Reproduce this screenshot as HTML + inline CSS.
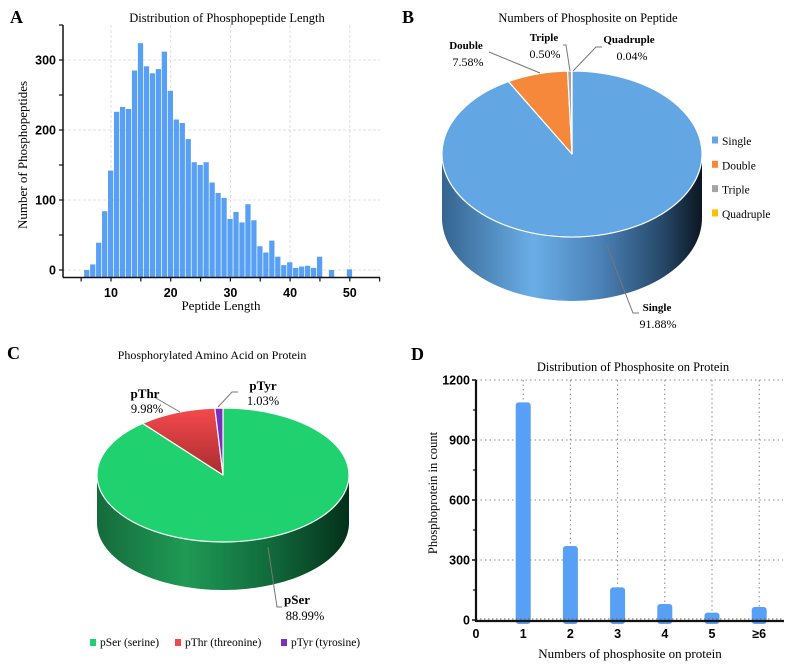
<!DOCTYPE html>
<html><head><meta charset="utf-8">
<style>
html,body{margin:0;padding:0;background:#fff;}
svg{display:block;}
.serif{font-family:"Liberation Serif",serif;}
.sans{font-family:"Liberation Sans",sans-serif;}
</style></head>
<body>
<svg id="fig" width="796" height="669" viewBox="0 0 796 669" xmlns="http://www.w3.org/2000/svg">
<defs>
<linearGradient id="sideB" x1="0" x2="1" y1="0" y2="0">
<stop offset="0" stop-color="#35648f"/><stop offset="0.35" stop-color="#6aaee8"/><stop offset="0.6" stop-color="#4c83b9"/><stop offset="0.85" stop-color="#264868"/><stop offset="1" stop-color="#0b1622"/>
</linearGradient>
<linearGradient id="sideC" x1="0" x2="1" y1="0" y2="0">
<stop offset="0" stop-color="#156b3b"/><stop offset="0.35" stop-color="#1f9a55"/><stop offset="0.7" stop-color="#10683a"/><stop offset="1" stop-color="#03301a"/>
</linearGradient>
<linearGradient id="thrTop" x1="0" x2="0" y1="0" y2="1">
<stop offset="0" stop-color="#f54a4c"/><stop offset="1" stop-color="#a82c30"/>
</linearGradient>
</defs>

<!-- Panel labels and titles -->
<text x="10" y="23" class="serif" font-size="18" font-weight="bold">A</text>
<text x="227" y="22" class="serif" font-size="12.5" text-anchor="middle">Distribution of Phosphopeptide Length</text>
<text x="402" y="23" class="serif" font-size="18" font-weight="bold">B</text>
<text x="588" y="22" class="serif" font-size="12.5" text-anchor="middle">Numbers of Phosphosite on Peptide</text>
<text x="7" y="359" class="serif" font-size="18" font-weight="bold">C</text>
<text x="212" y="359" class="serif" font-size="12" text-anchor="middle">Phosphorylated Amino Acid on Protein</text>
<text x="411" y="360" class="serif" font-size="18" font-weight="bold">D</text>
<text x="633" y="371" class="serif" font-size="12.5" text-anchor="middle">Distribution of Phosphosite on Protein</text>

<g id="chartA"></g>
<g id="chartB"></g>
<g id="chartC"></g>
<g id="chartD"></g>
</svg>
<script>
// ---------- Data ----------
const lengthBins = [6,7,8,9,10,11,12,13,14,15,16,17,18,19,20,21,22,23,24,25,26,27,28,29,30,31,32,33,34,35,36,37,38,39,40,41,42,43,44,45,47,50];
const lengthCounts = [0,8,39,84,142,226,233,230,285,324,291,281,287,312,256,215,210,187,154,150,154,125,110,103,73,83,68,94,71,34,25,42,19,7,11,3,5,6,3,19,0,1];
const aYTicks = [0,100,200,300];
const aXTicks = [10,20,30,40,50];

const pieBLabels = ["Single","Double","Triple","Quadruple"];
const pieBValues = [91.88,7.58,0.50,0.04];
const pieBColors = ["#62a6e3","#f5883a","#a5a5a5","#ffc000"];

const pieCLabels = ["pSer","pThr","pTyr"];
const pieCValues = [88.99,9.98,1.03];
const pieCColors = ["#20d26f","url(#thrTop)","#7b2fbe"];
const pieCLegend = ["pSer (serine)","pThr (threonine)","pTyr (tyrosine)"];
const pieCLegendColors = ["#20d26f","#f04a4a","#7b2fbe"];

const siteCategories = ["1","2","3","4","5","\u22656"];
const siteCounts = [1088,370,163,80,37,65];
const dYTicks = [0,300,600,900,1200];

const NS="http://www.w3.org/2000/svg";
function mk(parent,tag,attrs,text){const e=document.createElementNS(NS,tag);for(const k in attrs)e.setAttribute(k,attrs[k]);if(text!==undefined)e.textContent=text;parent.appendChild(e);return e;}

// ---------- Chart A ----------
(function(){
  const g=document.getElementById('chartA');
  const xA=v=>111+(v-10)*5.97;
  const yA=v=>270-v*0.7;
  const axisY=277.5, axisX=63;
  // grid
  aXTicks.forEach(t=>{const l=mk(g,'line',{x1:xA(t),x2:xA(t),y1:25,y2:axisY,stroke:'#d8d8d8','stroke-dasharray':'3,2','stroke-width':0.8});
    
    });
  aYTicks.forEach(t=>{const l=mk(g,'line',{x1:axisX,x2:380,y1:yA(t),y2:yA(t),stroke:'#d8d8d8','stroke-dasharray':'3,2','stroke-width':0.8});
    
    });
  // bars
  lengthBins.forEach((b,i)=>{
    const x0=xA(b-0.5),x1=xA(b+0.5),top=yA(lengthCounts[i]);
    const r=mk(g,'rect',{x:x0,y:top,width:x1-x0-0.7,height:axisY-top,fill:'#58a0f5'});
    
    
  });
  // axes
  const ya=mk(g,'line',{x1:axisX,x2:axisX,y1:25,y2:axisY,stroke:'#111','stroke-width':1.5});
  
  
  const xa=mk(g,'line',{x1:axisX,x2:380,y1:axisY,y2:axisY,stroke:'#111','stroke-width':1.5});
  
  
  for(let v=0;v<=350;v+=50){mk(g,'line',{x1:axisX-4,x2:axisX,y1:yA(v),y2:yA(v),stroke:'#111','stroke-width':1.2});}
  for(let v=5;v<=55;v+=5){mk(g,'line',{x1:xA(v),x2:xA(v),y1:axisY,y2:axisY+4,stroke:'#111','stroke-width':1.2});}
  aYTicks.forEach(t=>{const e=mk(g,'text',{x:axisX-7,y:yA(t)+4.5,'text-anchor':'end','font-size':12.5,'font-weight':'bold',class:'sans'},String(t));
    
    });
  aXTicks.forEach(t=>{const e=mk(g,'text',{x:xA(t),y:297,'text-anchor':'middle','font-size':12.5,'font-weight':'bold',class:'sans'},String(t));
    
    });
  const xt=mk(g,'text',{x:221,y:310,'text-anchor':'middle','font-size':13,class:'serif'},'Peptide Length');
  
  
  const yt=mk(g,'text',{x:0,y:0,transform:'translate(27,155) rotate(-90)','text-anchor':'middle','font-size':13,class:'serif'},'Number of Phosphopeptides');
  
  
})();

// ---------- Pie helper ----------
function drawPie(g,values,colors,cx,cy,rx,ry,depth,sideFill,prefix){
  const total=values.reduce((a,b)=>a+b,0);
  const pt=(a,dy)=>[cx+rx*Math.sin(a),cy-ry*Math.cos(a)+(dy||0)];
  // side (front half: angle between PI/2 and 3PI/2)
  let a=0;const angles=[];
  values.forEach(v=>{const a1=a+v/total*2*Math.PI;angles.push([a,a1]);a=a1;});
  angles.forEach((ang,i)=>{
    const s=Math.max(ang[0],Math.PI/2),e=Math.min(ang[1],3*Math.PI/2);
    if(e<=s)return;
    const p0=pt(s),p1=pt(e),p2=pt(e,depth),p3=pt(s,depth);
    const d=`M${p0[0]},${p0[1]} A${rx},${ry} 0 0 1 ${p1[0]},${p1[1]} L${p2[0]},${p2[1]} A${rx},${ry} 0 0 0 ${p3[0]},${p3[1]} Z`;
    const p=mk(g,'path',{d:d,fill:sideFill[i]});
    
    
  });
  // top
  angles.forEach((ang,i)=>{
    const p0=pt(ang[0]),p1=pt(ang[1]);const large=(ang[1]-ang[0])>Math.PI?1:0;
    const d=`M${cx},${cy} L${p0[0]},${p0[1]} A${rx},${ry} 0 ${large} 1 ${p1[0]},${p1[1]} Z`;
    const p=mk(g,'path',{d:d,fill:colors[i],stroke:'#fff','stroke-width':1.2,'stroke-linejoin':'round'});
    
    
  });
}
function leader(g,pts,name){const l=mk(g,'polyline',{points:pts,fill:'none',stroke:'#777','stroke-width':1});
  
  }
function lbl(g,x,y,t,bold,size,name,anchor){const e=mk(g,'text',{x:x,y:y,'font-size':size,'font-weight':bold?'bold':'normal','text-anchor':anchor||'middle',class:'serif'},t);
  
  return e;}

// ---------- Chart B ----------
(function(){
  const g=document.getElementById('chartB');
  drawPie(g,pieBValues,pieBColors,572,154,130,83,64,['url(#sideB)','#b86020','#777','#b08000'],'b');
  leader(g,'489,52 540,73','b-double-leader');
  leader(g,'563,45 566,45 570,71','b-triple-leader');
  leader(g,'602,47 596,47 573,71','b-quadruple-leader');
  leader(g,'607,246 633,313 639,313','b-single-leader');
  lbl(g,466,49,'Double',true,11,'b-double-name');
  lbl(g,468,66,'7.58%',false,12,'b-double-value');
  lbl(g,544,41,'Triple',true,11,'b-triple-name');
  lbl(g,545,58,'0.50%',false,12,'b-triple-value');
  lbl(g,629,43,'Quadruple',true,11,'b-quadruple-name');
  lbl(g,632,60,'0.04%',false,12,'b-quadruple-value');
  lbl(g,657,311,'Single',true,11,'b-single-name');
  lbl(g,658,328,'91.88%',false,12,'b-single-value');
  pieBLabels.forEach((t,i)=>{
    const y=141+i*24.3;
    const r=mk(g,'rect',{x:712,y:y-4.5,width:6,height:7,fill:pieBColors[i]});
    
    
    const e=lbl(g,722,y+4,t,false,11.5,'b-legend-entry','start');
    
  });
})();

// ---------- Chart C ----------
(function(){
  const g=document.getElementById('chartC');
  drawPie(g,pieCValues,pieCColors,223,475,126,67,48,['url(#sideC)','#8a2326','#4b1a78'],'c');
  leader(g,'154,397 180,412','c-pthr-leader');
  leader(g,'238,392 232,392 218,407','c-ptyr-leader');
  leader(g,'268,547 277,607 282,607','c-pser-leader');
  lbl(g,145,398,'pThr',true,13,'c-pthr-name');
  lbl(g,147,413,'9.98%',false,12.5,'c-pthr-value');
  lbl(g,263,390,'pTyr',true,13,'c-ptyr-name');
  lbl(g,263,405,'1.03%',false,12.5,'c-ptyr-value');
  lbl(g,297,604,'pSer',true,13,'c-pser-name');
  lbl(g,305,620,'88.99%',false,12.5,'c-pser-value');
  const xs=[90,175,281];
  pieCLegend.forEach((t,i)=>{
    const r=mk(g,'rect',{x:xs[i],y:639,width:6,height:7,fill:pieCLegendColors[i]});
    
    
    const e=lbl(g,xs[i]+10,646,t,false,11.5,'c-legend-entry','start');
    
  });
})();

// ---------- Chart D ----------
(function(){
  const g=document.getElementById('chartD');
  const xD=i=>476+i*47.2;
  const yD=v=>620-v*0.2;
  const axisY=621;
  dYTicks.forEach(t=>{if(t===0)return;const l=mk(g,'line',{x1:476,x2:783,y1:yD(t),y2:yD(t),stroke:'#888','stroke-dasharray':'1.5,3','stroke-width':1});
    
    });
  siteCategories.forEach((c,i)=>{const l=mk(g,'line',{x1:xD(i+1),x2:xD(i+1),y1:380,y2:axisY,stroke:'#888','stroke-dasharray':'1.5,3','stroke-width':1});
    
    });
  siteCategories.forEach((c,i)=>{
    const cx=xD(i+1),w=15,top=yD(siteCounts[i]);
    const r=mk(g,'rect',{x:cx-w/2,y:top,width:w,height:axisY-top+3,rx:3,fill:'#58a0f5'});
    
    
  });
  mk(g,'line',{x1:476,x2:783,y1:619,y2:619,stroke:'#666','stroke-dasharray':'1.5,2.5','stroke-width':1});
  const ya=mk(g,'line',{x1:476,x2:476,y1:380,y2:axisY+1,stroke:'#111','stroke-width':2.2});
  
  
  const xa=mk(g,'line',{x1:476,x2:784,y1:axisY,y2:axisY,stroke:'#111','stroke-width':2.2});
  
  
  dYTicks.forEach(t=>{mk(g,'line',{x1:472,x2:476,y1:yD(t),y2:yD(t),stroke:'#111','stroke-width':1.5});
    const e=mk(g,'text',{x:470,y:yD(t)+4.5,'text-anchor':'end','font-size':12.5,'font-weight':'bold',class:'sans'},String(t));
    
    });
  for(let v=150;v<1200;v+=300){mk(g,'line',{x1:473,x2:476,y1:yD(v),y2:yD(v),stroke:'#111','stroke-width':1.2});}
  const z=mk(g,'text',{x:xD(0),y:638,'text-anchor':'middle','font-size':12.5,'font-weight':'bold',class:'sans'},'0');
  
  
  siteCategories.forEach((c,i)=>{const e=mk(g,'text',{x:xD(i+1),y:638,'text-anchor':'middle','font-size':12.5,'font-weight':'bold',class:'sans'},c);
    
    });
  const xt=mk(g,'text',{x:630,y:658,'text-anchor':'middle','font-size':13,class:'serif'},'Numbers of phosphosite on protein');
  
  
  const yt=mk(g,'text',{x:0,y:0,transform:'translate(437,493) rotate(-90)','text-anchor':'middle','font-size':12.5,class:'serif'},'Phosphoprotein in count');
  
  
})();
</script>
</body></html>
